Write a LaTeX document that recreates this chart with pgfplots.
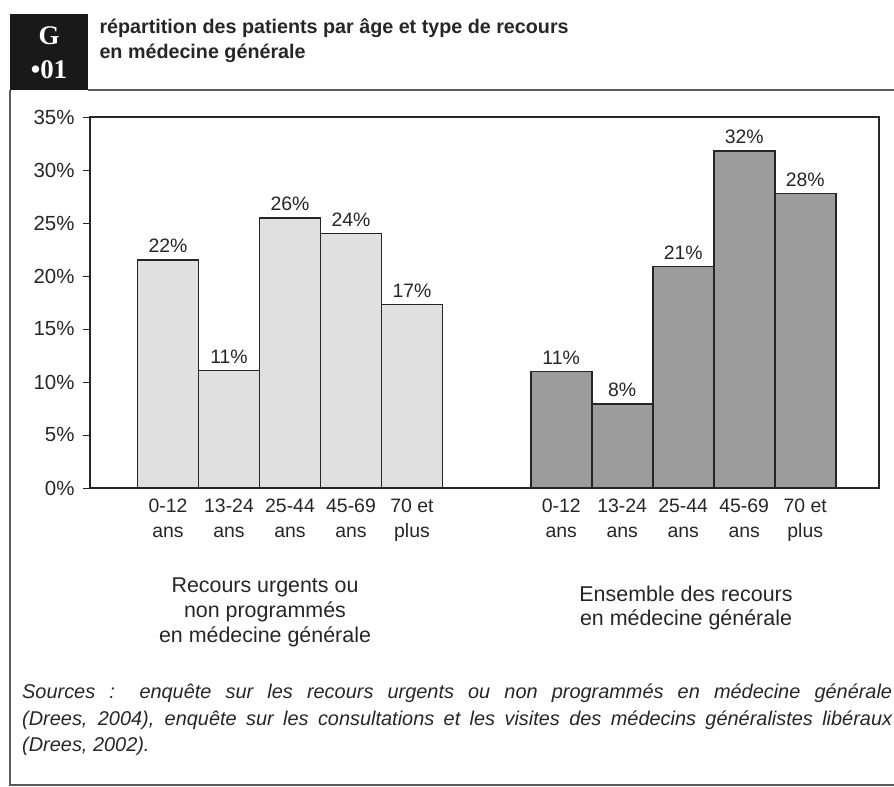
\documentclass[border=0pt]{standalone}
\usepackage{pgfplots}
\pgfplotsset{compat=1.18}
\usepackage{pgfplotstable}
\usepackage{fontspec}
\setmainfont{Liberation Sans}
\newfontfamily\serifb{Liberation Serif}
\definecolor{lightbar}{HTML}{E0E0E0}
\definecolor{darkbar}{HTML}{9C9C9C}
\definecolor{txt}{HTML}{262626}
\definecolor{framec}{HTML}{5A5A5A}

\pgfplotstableread{
x y lab
78 21.5 22
139 11.1 11
200 25.5 26
261 24.0 24
322 17.3 17
}\urgent
\pgfplotstableread{
x y lab
471.2 11.0 11
532.2 7.9 8
593.2 20.9 21
654.2 31.8 32
715.2 27.8 28
}\ensemble

\newcommand{\lbl}{\fontsize{19.5}{25}\selectfont}
\newcommand{\grp}{\fontsize{21.5}{25}\selectfont}

\begin{document}
\begin{tikzpicture}
\useasboundingbox (0,0) rectangle (894bp,-787bp);
% header black box
\fill[black!90] (10bp,-14bp) rectangle (88bp,-90bp);
\node[text=white, font=\serifb\bfseries\fontsize{27}{27}\selectfont] at (49bp,-36bp) {G};
\node[text=white, font=\serifb\bfseries\fontsize{27}{27}\selectfont] at (49bp,-70bp) {\textbullet01};
\node[anchor=west, text=txt, font=\bfseries\fontsize{19.8}{22}\selectfont] at (96bp,-28bp) {répartition des patients par âge et type de recours};
\node[anchor=west, text=txt, font=\bfseries\fontsize{19.8}{22}\selectfont] at (96bp,-53bp) {en médecine générale};
% frame
\draw[framec, line width=1.5bp] (88bp,-90bp) -- (900bp,-90bp);
\draw[framec, line width=1.5bp] (10bp,-90bp) -- (10bp,-785bp) -- (900bp,-785bp);

\begin{axis}[
  at={(90bp,-488bp)}, anchor=south west,
  scale only axis, width=789bp, height=371bp,
  xmin=0, xmax=789, ymin=0, ymax=35,
  ybar, bar width=61,
  axis line style={draw=txt, line width=1.4bp},
  ytick={0,5,10,15,20,25,30,35},
  yticklabels={0\%,5\%,10\%,15\%,20\%,25\%,30\%,35\%},
  ytick pos=left, tick align=outside, major tick length=7bp,
  ytick style={draw=txt, line width=1bp},
  yticklabel style={xshift=-5bp, font=\fontsize{20.5}{25}\selectfont},
  xtick={78,139,200,261,322,471.2,532.2,593.2,654.2,715.2},
  xticklabels={{0-12\\ans},{13-24\\ans},{25-44\\ans},{45-69\\ans},{70 et\\plus},{0-12\\ans},{13-24\\ans},{25-44\\ans},{45-69\\ans},{70 et\\plus}},
  xtick style={draw=none},
  xticklabel style={align=center, font=\lbl},
  tick label style={text=txt},
  nodes near coords={\pgfplotspointmeta\%},
  point meta=explicit symbolic,
  every node near coord/.append style={font=\lbl, text=txt, yshift=3bp},
  clip=false,
]
\addplot[bar shift=0pt, fill=lightbar, draw=txt, line width=1.6bp] table[x=x,y=y,meta=lab]{\urgent};
\addplot[bar shift=0pt, fill=darkbar, draw=txt, line width=1.6bp] table[x=x,y=y,meta=lab]{\ensemble};
\end{axis}

\node[align=center, text=txt, font=\grp] at (265bp,-612bp) {Recours urgents ou\\non programmés\\en médecine générale};
\node[align=center, text=txt, font=\grp] at (686bp,-608bp) {Ensemble des recours\\en médecine générale};

\node[anchor=north west, inner sep=0pt, text=txt, font=\itshape\fontsize{20}{26.5}\selectfont, text width=870bp, align=justify] at (22bp,-684bp)
{Sources : enquête sur les recours urgents ou non programmés en médecine générale\linebreak (Drees, 2004), enquête sur les consultations et les visites des médecins généralistes libéraux\linebreak (Drees, 2002).};
\end{tikzpicture}
\end{document}
